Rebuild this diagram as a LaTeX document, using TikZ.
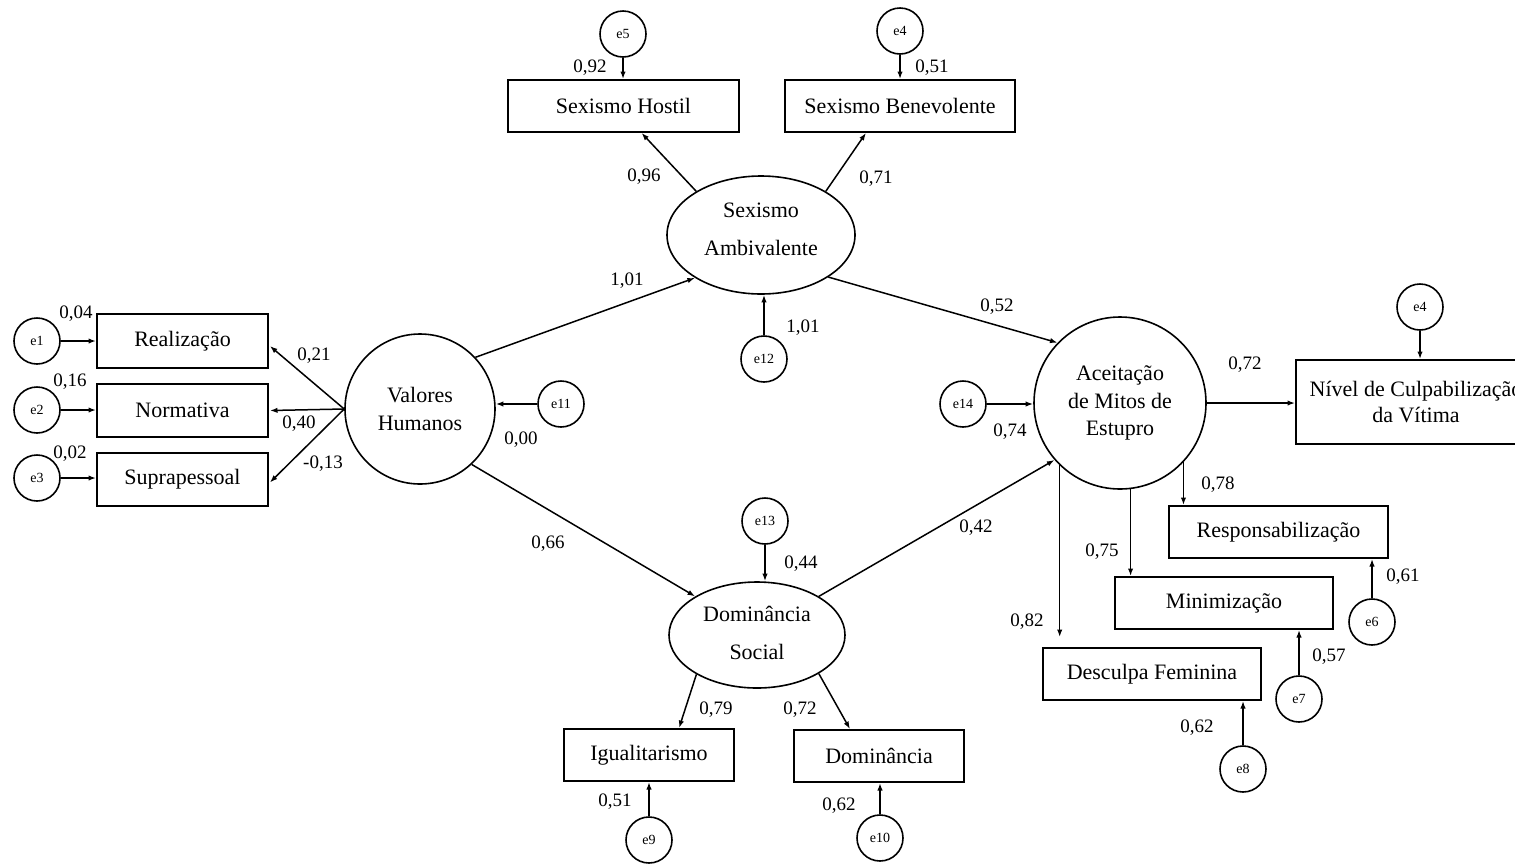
\documentclass[tikz,border=0pt]{standalone}
\usepackage{fontspec}
\setmainfont{Liberation Serif}
\usetikzlibrary{arrows.meta,calc,shapes.geometric}
\begin{document}
\begin{tikzpicture}[x=0.5pt,y=-0.5pt,
  box/.style={draw,line width=0.9pt,rectangle,inner sep=0pt,font=\fontsize{11}{14}\selectfont},
  err/.style={draw,line width=0.8pt,circle,minimum size=23pt,inner sep=0pt,font=\fontsize{7}{8}\selectfont},
  lat/.style={draw,line width=0.8pt,inner sep=0pt,align=center},
  num/.style={font=\fontsize{9.5}{11}\selectfont,inner sep=0pt,yshift=-1pt},
  arr/.style={line width=0.75pt,-{Latex[length=3.8pt,width=2.7pt]}}]
\useasboundingbox (0,0) rectangle (1515,863);
\clip (0,0) rectangle (1515,863);

% observed variables
\node[box,minimum width=85.5pt,minimum height=27pt] (real) at (182.5,341) {Realização};
\node[box,minimum width=85.5pt,minimum height=26.5pt] (norm) at (182.5,410.5) {Normativa};
\node[box,minimum width=85.5pt,minimum height=26.5pt] (supr) at (182.5,479.5) {Suprapessoal};
\node[box,minimum width=115.5pt,minimum height=26pt] (sh) at (623.5,106) {Sexismo Hostil};
\node[box,minimum width=115pt,minimum height=26pt] (sb) at (900,106) {Sexismo Benevolente};
\node[box,minimum width=120pt,minimum height=42pt,align=center,font=\fontsize{11}{13}\selectfont] (niv) at (1416,402) {Nível de Culpabilização\\da Vítima};
\node[box,minimum width=109.5pt,minimum height=26pt] (resp) at (1278.5,532) {Responsabilização};
\node[box,minimum width=109pt,minimum height=26pt] (min) at (1224,603) {Minimização};
\node[box,minimum width=109pt,minimum height=26pt] (df) at (1152,674) {Desculpa Feminina};
\node[box,minimum width=85pt,minimum height=26pt] (ig) at (649,755) {Igualitarismo};
\node[box,minimum width=85pt,minimum height=26pt] (dom) at (879,756) {Dominância};

% latent variables
\node[lat,circle,minimum size=75pt,font=\fontsize{11}{14}\selectfont] (vh) at (420,409) {Valores\\Humanos};
\node[lat,ellipse,minimum width=94pt,minimum height=59pt,font=\fontsize{11}{19}\selectfont,text depth=6pt] (sa) at (761,235) {Sexismo\\Ambivalente};
\node[lat,circle,minimum size=86pt,font=\fontsize{11}{13.8}\selectfont] (ame) at (1120,403) {Aceitação\\de Mitos de\\Estupro};
\node[lat,ellipse,minimum width=88pt,minimum height=53pt,font=\fontsize{11}{19}\selectfont,text depth=2pt] (ds) at (757,635) {Dominância\\Social};

% error terms
\node[err] (e1) at (37,341) {e1};
\node[err] (e2) at (37,410) {e2};
\node[err] (e3) at (37,478) {e3};
\node[err] (e11) at (561,404) {e11};
\node[err] (e5) at (623,34) {e5};
\node[err] (e4) at (900,31) {e4};
\node[err] (e12) at (764,359) {e12};
\node[err] (e14) at (963,404) {e14};
\node[err] (e4r) at (1420,307) {e4};
\node[err] (e6) at (1372,622) {e6};
\node[err] (e7) at (1299,699) {e7};
\node[err] (e8) at (1243,769) {e8};
\node[err] (e13) at (765,521) {e13};
\node[err] (e9) at (649,840) {e9};
\node[err] (e10) at (880,838) {e10};

% connectors
\draw[arr] (e1.east) -- (e1.east -| real.west);
\draw[arr] (e2.east) -- (e2.east -| norm.west);
\draw[arr] (e3.east) -- (e3.east -| supr.west);
\draw[arr] (vh.west) -- ($(real.east)+(1,5)$);
\draw[arr] (vh.west) -- ($(norm.east)+(1,0)$);
\draw[arr] (vh.west) -- ($(supr.east)+(1,3)$);
\draw[arr] (e11.west) -- (e11.west -| vh.east);
\draw[arr] (vh.43) -- (sa.213);
\draw[arr] (vh.313) -- (ds.148);
\draw[arr] (sa.328) -- (ame.136);
\draw[arr] (ds.32) -- (ame.221);
\draw[arr] (sa.146) -- ($(sh.south)+(18,0)$);
\draw[arr] (sa.34) -- ($(sb.south)+(-34,0)$);
\draw[arr] (e5.south) -- (e5.south |- sh.north);
\draw[arr] (e4.south) -- (e4.south |- sb.north);
\draw[arr] (e12.north) -- (e12.north |- sa.south);
\draw[arr] (e13.south) -- (e13.south |- ds.north);
\draw[arr] (ds.213) -- ($(ig.north)+(30,0)$);
\draw[arr] (ds.328) -- ($(dom.north)+(-29,0)$);
\draw[arr] (e9.north) -- (e9.north |- ig.south);
\draw[arr] (e10.north) -- (e10.north |- dom.south);
\draw[arr] (e14.east) -- (e14.east -| ame.west);
\draw[arr] (ame.east) -- (ame.east -| niv.west);
\draw[arr] (e4r.south) -- (e4r.south |- niv.north);
\draw[arr] (ame.317) -- (ame.317 |- resp.north);
\draw[arr] (ame.277) -- (ame.277 |- min.north);
\draw[arr] (ame.226) -- ($(ame.226 |- df.north)+(0,-10)$);
\draw[arr] (e6.north) -- (e6.north |- resp.south);
\draw[arr] (e7.north) -- (e7.north |- min.south);
\draw[arr] (e8.north) -- (e8.north |- df.south);

% coefficients
\node[num] (l1) at (76,312) {0,04};
\node[num] (l2) at (70,380) {0,16};
\node[num] (l3) at (70,452) {0,02};
\node[num] (l4) at (314,354) {0,21};
\node[num] (l5) at (299,422) {0,40};
\node[num] (l6) at (323,462) {-0,13};
\node[num] (l7) at (521,438) {0,00};
\node[num] (l8) at (590,66) {0,92};
\node[num] (l9) at (932,66) {0,51};
\node[num] (l10) at (644,175) {0,96};
\node[num] (l11) at (876,177) {0,71};
\node[num] (l12) at (627,279) {1,01};
\node[num] (l13) at (803,326) {1,01};
\node[num] (l14) at (997,305) {0,52};
\node[num] (l15) at (1245,363) {0,72};
\node[num] (l16) at (1010,430) {0,74};
\node[num] (l17) at (1218,483) {0,78};
\node[num] (l18) at (1102,550) {0,75};
\node[num] (l19) at (1027,620) {0,82};
\node[num] (l20) at (1403,575) {0,61};
\node[num] (l21) at (1329,655) {0,57};
\node[num] (l22) at (1197,726) {0,62};
\node[num] (l23) at (801,562) {0,44};
\node[num] (l24) at (548,542) {0,66};
\node[num] (l25) at (976,526) {0,42};
\node[num] (l26) at (716,708) {0,79};
\node[num] (l27) at (800,708) {0,72};
\node[num] (l28) at (615,800) {0,51};
\node[num] (l29) at (839,804) {0,62};
\end{tikzpicture}
\end{document}
